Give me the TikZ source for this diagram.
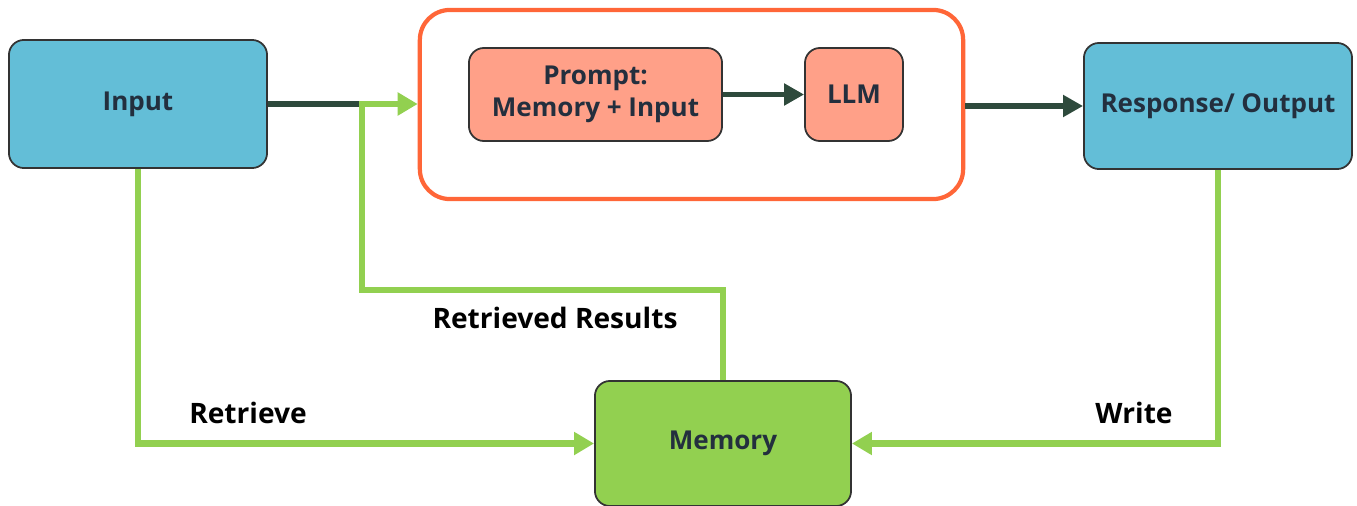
\documentclass[tikz,border=0pt]{standalone}
\usepackage{fontspec}
\setmainfont{Open Sans}
\usepackage{xcolor}
\usepackage{tikz}
\usetikzlibrary{positioning, arrows.meta, calc}

\definecolor{ioblue}{HTML}{63BED7}
\definecolor{salmon}{HTML}{FFA088}
\definecolor{memgreen}{HTML}{92D050}
\definecolor{ringorange}{HTML}{FF6638}
\definecolor{flowdark}{HTML}{2E4A3C}
\definecolor{inktext}{HTML}{232F3E}

\begin{document}
\begin{tikzpicture}[
	  x=0.01cm, y=-0.01cm,
	  font=\bfseries,
	  box/.style={
	    draw=black!80,
	    line width=0.5pt,
	    rounded corners=0.15cm,
	    align=center,
	    text=inktext,
	    font=\fontsize{7.4}{9}\selectfont\bfseries,
	    inner sep=0pt
	  },
	  iobox/.style={box,fill=ioblue},
	  promptbox/.style={box,fill=salmon},
	  membox/.style={box,fill=memgreen},
	  ringbox/.style={draw=ringorange,line width=1.2pt,rounded corners=0.3cm,
	    minimum width=5.43cm,minimum height=1.89cm},
	  annot/.style={font=\fontsize{8}{10}\selectfont\bfseries, text=black},
	  darkarrow/.style={-{Triangle[length=0.2cm,width=0.21cm]},line width=1.5pt,draw=flowdark},
	  darkline/.style={line width=1.5pt,draw=flowdark},
	  greenarrow/.style={-{Triangle[length=0.2cm,width=0.22cm]},line width=1.8pt,draw=memgreen}
	]
	\useasboundingbox (0,0) rectangle (1357,506);

	% --- Top row ---
	\node[iobox, minimum width=2.58cm, minimum height=1.28cm] (input) at (138,104) {Input};
	\node[ringbox] (ring) at (691.5,104.5) {};
	\node[promptbox, minimum width=2.53cm, minimum height=0.93cm] (prompt) at (595.5,94.5) {Prompt:\\Memory + Input};
	\node[promptbox, minimum width=0.98cm, minimum height=0.93cm] (llm) at (854,94.5) {LLM};
	\node[iobox, minimum width=2.68cm, minimum height=1.26cm] (output) at (1218,106) {Response/ Output};

	% --- Bottom row ---
	\node[membox, minimum width=2.56cm, minimum height=1.25cm] (memory) at (723,443.5) {Memory};

	% --- Flows ---
	\coordinate (feed) at (362,290);
	\draw[darkline] (input.east) -- (feed |- input.east);
	\draw[darkarrow] (prompt) -- (llm);
	\draw[darkarrow] (ring.east |- output) -- (output.west);

	\draw[greenarrow] (memory.north) |- (feed) -- (feed |- input.east) -- (ring.west |- input.east);
	\draw[greenarrow] (input.south) |- (memory.west);
	\draw[greenarrow] (output.south) |- (memory.east);

	% --- Labels ---
	\node[annot] (lblresults) at (555,318) {Retrieved Results};
	\node[annot] (lblretrieve) at (248,413) {Retrieve};
	\node[annot] (lblwrite) at (1134,413) {Write};

\end{tikzpicture}
\end{document}
